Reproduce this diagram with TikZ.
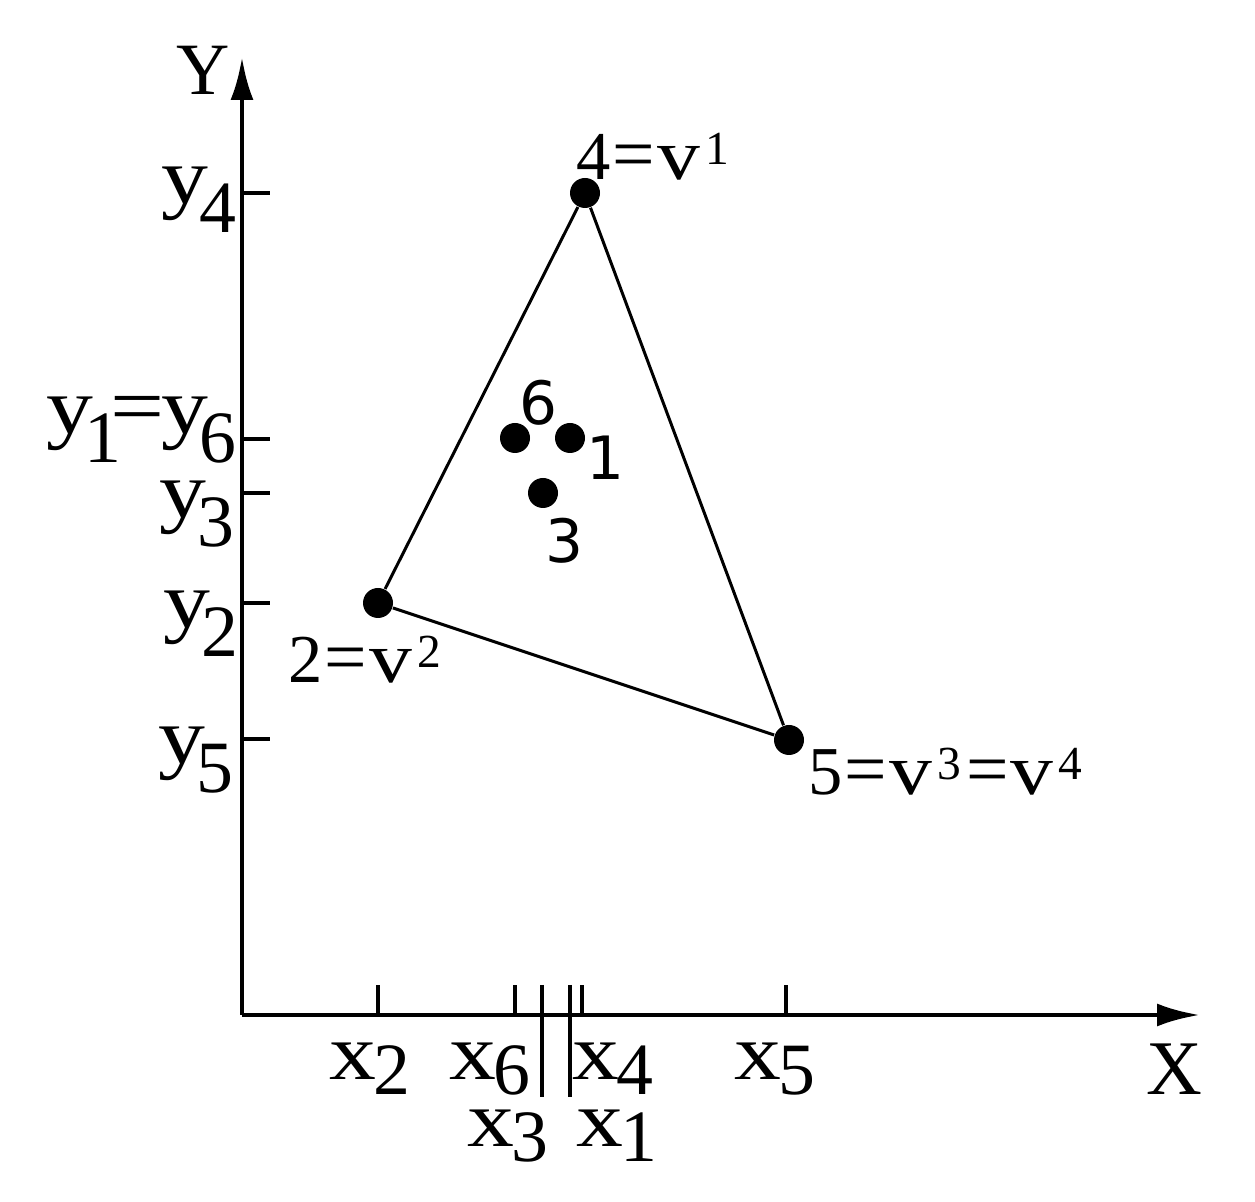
\documentclass[tikz,border=0pt]{standalone}
\usepackage{fontspec}
\setmainfont{Liberation Serif}
\newfontfamily\dotfont{DejaVu Sans}
\usepackage{graphicx}
\usetikzlibrary{arrows.meta}
\tikzstyle{dot} = [circle, fill=black, inner sep=0pt, minimum size=0.3cm]
\tikzstyle{axis} = [line width=1.4pt]
\tikzstyle{edge} = [line width=0.85pt]
\tikzstyle{axlabel} = [inner sep=0pt, font=\fontsize{21}{24}\selectfont]
\tikzstyle{ptlabel} = [inner sep=0pt, font=\fontsize{19.5}{22}\selectfont]
\tikzstyle{numlabel} = [inner sep=0pt, font=\dotfont\fontsize{17}{19}\selectfont]
\newcommand{\wlet}[1]{\scalebox{1.27}[1.08]{#1}}
\newcommand{\weq}{\scalebox{1.3}[1.1]{=}}
\newcommand{\peq}{\scalebox{1.1}[1.1]{=}}
\newcommand{\ysub}[1]{\kern-2.5pt\raisebox{-0.29cm}{#1}}
\newcommand{\xsub}[1]{\kern-1pt\raisebox{-0.15cm}{#1}}
\newcommand{\vlet}{\kern0.5pt\scalebox{1.25}[1.05]{v}}
\newcommand{\vsup}[1]{\kern1.5pt\raisebox{0.15cm}{\fontsize{13.5}{15}\selectfont #1}}

\begin{document}
\begin{tikzpicture}
\useasboundingbox (0,0) rectangle (12.55,-12.02);
\coordinate (O) at (2.42,-10.15);
\coordinate (ytop) at (2.42,-0.57);
\coordinate (xend) at (12.00,-10.15);
\draw[axis, -{Latex[length=4.3mm,width=2.3mm]}] (O) -- (ytop);
\draw[axis, -{Latex[length=4.3mm,width=2.3mm]}] (O) -- (xend);
\node[axlabel, anchor=base] (ylab) at (2.03,-0.95) {Y};
\node[axlabel, font=\fontsize{22}{24}\selectfont, anchor=base] (xlab) at (11.74,-10.95) {X};

% ticks
\foreach \y in {1.93,4.39,4.93,6.03,7.39}
    \draw[axis] (2.42,-\y) -- (2.70,-\y);
\foreach \x in {3.78,5.15,5.82,7.86}
    \draw[axis] (\x,-10.15) -- (\x,-9.85);
\foreach \x in {5.42,5.70}
    \draw[axis] (\x,-9.85) -- (\x,-10.97);

\node[axlabel, anchor=base east] (ly4) at (2.37,-2.04) {\wlet{y}\ysub{4}};
\node[axlabel, anchor=base east] (ly16) at (2.37,-4.34) {\wlet{y}\ysub{1}\kern-3pt\weq\kern-1pt\wlet{y}\ysub{6}};
\node[axlabel, anchor=base east] (ly3) at (2.35,-5.18) {\wlet{y}\ysub{3}};
\node[axlabel, anchor=base east] (ly2) at (2.39,-6.28) {\wlet{y}\ysub{2}};
\node[axlabel, anchor=base east] (ly5) at (2.34,-7.64) {\wlet{y}\ysub{5}};

\node[axlabel, anchor=base west] (lx2) at (3.29,-10.80) {\wlet{x}\xsub{2}};
\node[axlabel, anchor=base west] (lx6) at (4.49,-10.80) {\wlet{x}\xsub{6}};
\node[axlabel, anchor=base west] (lx4) at (5.72,-10.80) {\wlet{x}\xsub{4}};
\node[axlabel, anchor=base west] (lx5) at (7.34,-10.80) {\wlet{x}\xsub{5}};
\node[axlabel, anchor=base west] (lx3) at (4.67,-11.47) {\wlet{x}\xsub{3}};
\node[axlabel, anchor=base west] (lx1) at (5.76,-11.47) {\wlet{x}\xsub{1}};

% points
\node[dot] (p4) at (5.85,-1.93) {};
\node[dot] (p2) at (3.78,-6.03) {};
\node[dot] (p5) at (7.89,-7.40) {};
\node[dot] (p6) at (5.15,-4.38) {};
\node[dot] (p1) at (5.70,-4.38) {};
\node[dot] (p3) at (5.43,-4.93) {};
\draw[edge] (p4) -- (p2) -- (p5) -- (p4);

\node[ptlabel, anchor=base west] (l4) at (5.76,-1.80) {4\kern0.5pt\peq\vlet\vsup{1}};
\node[ptlabel, anchor=base west] (l2) at (2.88,-6.83) {2\kern0.5pt\peq\vlet\vsup{2}};
\node[ptlabel, anchor=base west] (l5) at (8.08,-7.95) {5\kern0.5pt\peq\vlet\vsup{3}\kern1.5pt\peq\vlet\vsup{4}};
\node[numlabel, anchor=base] (l6) at (5.39,-4.25) {6};
\node[numlabel, anchor=base] (l1) at (6.06,-4.80) {1};
\node[numlabel, anchor=base] (l3) at (5.65,-5.63) {3};
\end{tikzpicture}
\end{document}
